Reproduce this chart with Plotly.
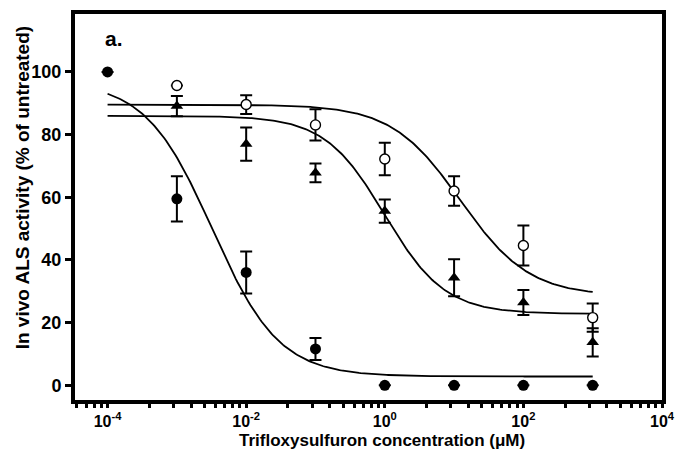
import numpy as np
import plotly.graph_objects as go

# concentrations (µM)
conc_filled = [1e-4, 1e-3, 1e-2, 1e-1, 1, 10, 100, 1000]
val_filled = [100, 59.5, 36, 11.6, 0, 0, 0, 0]
err_filled = [0, 7.2, 6.7, 3.5, 0, 0, 0, 0]

conc_open = [1e-3, 1e-2, 1e-1, 1, 10, 100, 1000]
val_open = [95.7, 89.6, 83.1, 72.2, 62, 44.6, 21.6]
err_open = [0, 3, 5, 5.2, 4.7, 6.4, 4.5]

conc_tri = [1e-3, 1e-2, 1e-1, 1, 10, 100, 1000]
val_tri = [89.1, 77, 67.8, 55.6, 34.3, 26.4, 13.7]
err_tri = [3.2, 5.3, 3, 3.7, 5.9, 4, 4.5]

# dose-response fit parameters: top, bottom, logEC50, hill
fit_filled = (97, 2.8, -2.49, 0.9)
fit_open = (89.6, 28.5, 1.09, 0.875)
fit_tri = (86, 22.8, 0.0, 1.0)

major_ticks = [1e-4, 1e-2, 1, 1e2, 1e4]
major_text = ["10<sup>-4</sup>", "10<sup>-2</sup>", "10<sup>0</sup>", "10<sup>2</sup>", "10<sup>4</sup>"]
y_ticks = [0, 20, 40, 60, 80, 100]

FONT = "Arial, Liberation Sans, sans-serif"

def curve(p):
    top, bot, c, h = p
    lx = np.linspace(-4, 3, 300)
    y = bot + (top - bot) / (1 + 10 ** ((lx - c) * h))
    return 10 ** lx, y

fig = go.Figure()
for p in (fit_filled, fit_open, fit_tri):
    cx, cy = curve(p)
    fig.add_trace(go.Scatter(x=cx, y=cy, mode="lines",
                             line=dict(color="black", width=1.8), showlegend=False, hoverinfo="skip"))

ebar = dict(type="data", thickness=2, width=6, color="black")
fig.add_trace(go.Scatter(x=conc_filled, y=val_filled, mode="markers",
                         error_y=dict(array=err_filled, **ebar),
                         marker=dict(symbol="circle", size=11, color="black"), showlegend=False))
fig.add_trace(go.Scatter(x=conc_open, y=val_open, mode="markers",
                         error_y=dict(array=err_open, **ebar),
                         marker=dict(symbol="circle", size=10, color="white",
                                     line=dict(color="black", width=1.4)), showlegend=False))
fig.add_trace(go.Scatter(x=conc_tri, y=val_tri, mode="markers",
                         error_y=dict(array=err_tri, **ebar),
                         marker=dict(symbol="triangle-up", size=11, color="black"), showlegend=False))

minor_vals = []
for e in range(-6, 4, 2):
    for k in range(2, 10):
        v = 10 ** (e + 2 * np.log10(k))
        if 10 ** -4.47 < v < 1e4:
            minor_vals.append(v)

fig.update_xaxes(type="log", range=[-4.47, 4], tickvals=major_ticks, ticktext=major_text,
                 ticks="outside", ticklen=4, tickwidth=3, tickcolor="black",
                 showline=True, linewidth=4, linecolor="black", mirror=True,
                 showgrid=False, zeroline=False,
                 tickfont=dict(family=FONT, size=16, color="black", weight="bold"),
                 minor=dict(tickvals=minor_vals, ticks="outside", ticklen=4, tickwidth=3,
                            tickcolor="black", showgrid=False))
fig.update_yaxes(range=[-4.7, 118.5], tickvals=y_ticks,
                 ticks="outside", ticklen=6, tickwidth=3, tickcolor="black",
                 showline=True, linewidth=4, linecolor="black", mirror=True,
                 showgrid=False, zeroline=False,
                 tickfont=dict(family=FONT, size=18, color="black", weight="bold"))

fig.add_annotation(text="In vivo ALS activity (% of untreated)", xref="paper", yref="paper",
                   x=-0.0903, y=0.551, xanchor="center", yanchor="middle", textangle=-90,
                   showarrow=False,
                   font=dict(family=FONT, size=19, color="black", weight="bold"))
fig.add_annotation(text="Trifloxysulfuron concentration (\u03bcM)", xref="paper", yref="paper",
                   x=0.523, y=-0.106, xanchor="center", yanchor="middle", showarrow=False,
                   font=dict(family=FONT, size=17, color="black", weight="bold"))
fig.add_annotation(text="a.", xref="paper", yref="paper", x=0.067, y=0.936,
                   xanchor="center", yanchor="middle",
                   showarrow=False, font=dict(family=FONT, size=21, color="black", weight="bold"))

fig.update_layout(width=686, height=443, margin=dict(l=67, r=32, t=2, b=51),
                  plot_bgcolor="white", paper_bgcolor="white")
fig.write_html("out.html")
